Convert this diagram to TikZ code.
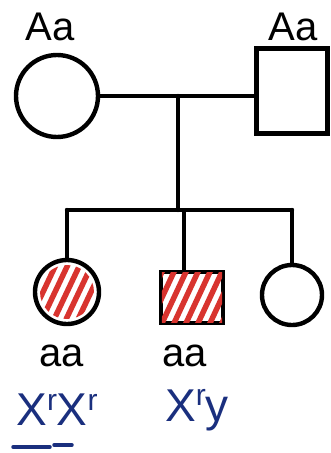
\documentclass[tikz,border=0pt]{standalone}
\usepackage{fontspec}
\setmainfont{Liberation Sans}
\definecolor{hatchred}{HTML}{D8342F}
\definecolor{inkblue}{HTML}{1A2F7E}
\newcommand{\supr}{\raisebox{0.33em}{\fontsize{30}{30}\selectfont r}}
\begin{document}
\begin{tikzpicture}[x=1pt,y=-1pt,
  ln/.style={line width=4.4pt, line cap=round, line join=round},
  fem/.style={circle, draw, line width=4.4pt, inner sep=0pt},
  mal/.style={rectangle, draw, line width=4.4pt, inner sep=0pt},
  hatch/.style={hatchred, line width=5.5pt, line cap=round},
  gen/.style={font=\fontsize{40}{40}\selectfont, inner sep=0pt},
  xgen/.style={text=inkblue, font=\fontsize{46}{46}\selectfont, inner sep=0pt}]
\useasboundingbox (0,0) rectangle (331,453);
% parents
\node[fem, minimum size=82pt] (mother) at (57,96) {};
\node[mal, minimum width=71pt, minimum height=85pt] (father) at (292,91) {};
\node[gen] (lm) at (50,27) {Aa};
\node[gen] (lf) at (293,27) {Aa};
\draw[ln] (mother.east) -- (father.west |- mother.east);
\coordinate (j) at (178,96);
\coordinate (s) at (178,210);
\draw[ln] (j) -- (s);
% children
\node[fem, minimum size=64pt] (c1) at (67,292) {};
\node[mal, minimum width=62pt, minimum height=51pt] (c2) at (192,297.5) {};
\node[fem, minimum size=60pt] (c3) at (292,295) {};
\coordinate (s1) at (c1.north |- s);
\coordinate (s3) at (c3.north |- s);
\coordinate (c2t) at ([xshift=-8pt]c2.north);
\draw[ln] (s1) -- (s3);
\draw[ln] (s1) -- (c1.north);
\draw[ln] (s3) -- (c3.north);
\draw[ln] (s) -- (c2t |- s) -- (c2t);
% hatching
\begin{scope}
  \clip (c1.center) circle (27pt);
  \foreach \k in {-48,-36,...,48}
    \draw[hatch] ([shift={(\k-18,38)}]c1.center) -- ++(36,-76);
\end{scope}
\begin{scope}
  \clip ([shift={(3,3)}]c2.north west) rectangle ([shift={(-3,-3)}]c2.south east);
  \foreach \k in {-54,-42,...,54}
    \draw[hatch] ([shift={(\k-14,30)}]c2.center) -- ++(28,-60);
\end{scope}
% genotype labels
\node[gen] (g1) at (62,356) {aa};
\node[gen] (g2) at (185,356) {aa};
\node[xgen] (x1) at (57,410) {X\supr X\supr};
\node[xgen] (x2) at (197,410) {X\supr y};
\coordinate (u1) at (13,447);
\coordinate (u2) at (50,447);
\coordinate (u3) at (54,445);
\coordinate (u4) at (72,445);
\draw[ln, inkblue, line width=3.5pt] (u1) -- (u2);
\draw[ln, inkblue, line width=3.5pt] (u3) -- (u4);
\end{tikzpicture}
\end{document}
